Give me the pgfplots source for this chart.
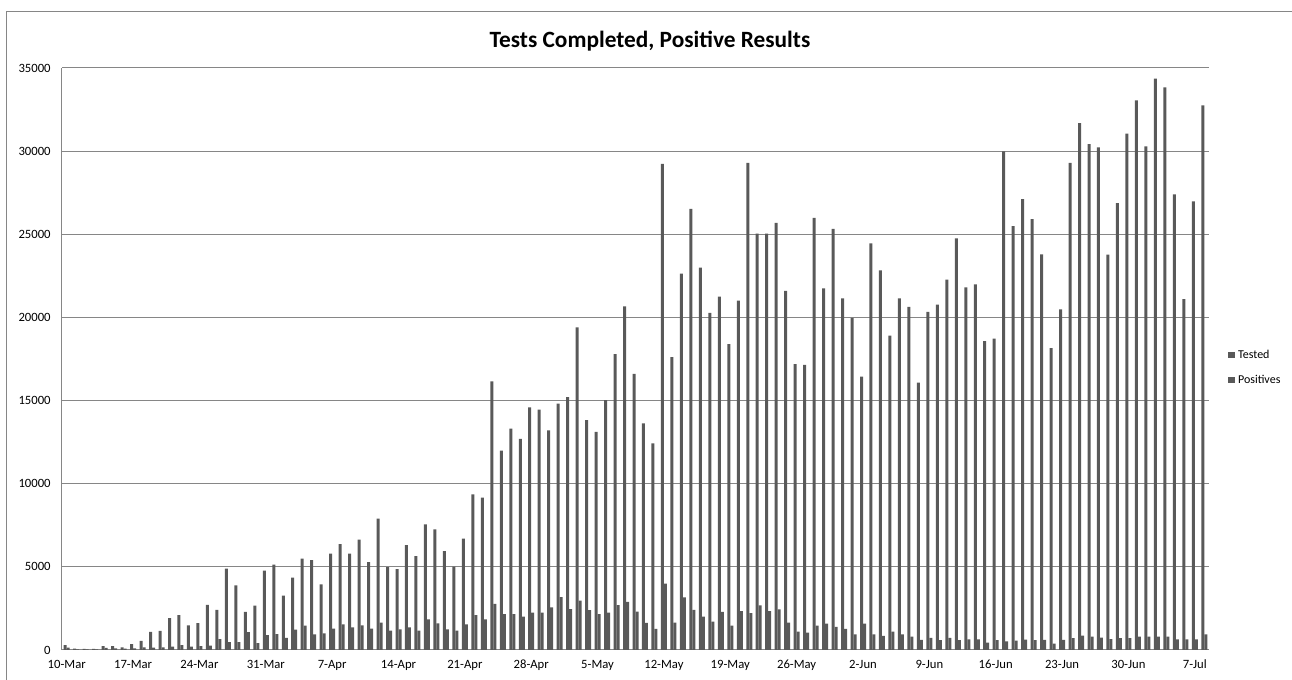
\documentclass[border=0pt]{standalone}
\usepackage{pgfplots}
\usepackage{pgfplotstable}
\pgfplotsset{compat=1.18}
\usepackage{fontspec}
\setmainfont{Carlito}
\definecolor{bargray}{HTML}{595959}
\definecolor{gridgray}{HTML}{868686}
\pgfplotstableread{
x t p
0 300 140
1 80 30
2 60 30
3 60 30
4 240 120
5 240 100
6 160 80
7 360 100
8 550 160
9 1090 140
10 1150 160
11 1920 200
12 2100 300
13 1480 200
14 1620 240
15 2720 260
16 2420 650
17 4900 480
18 3890 480
19 2290 1080
20 2670 420
21 4780 900
22 5140 960
23 3270 730
24 4350 1220
25 5500 1460
26 5400 940
27 3940 1000
28 5800 1280
29 6360 1540
30 5800 1360
31 6640 1480
32 5280 1280
33 7900 1640
34 4980 1160
35 4860 1240
36 6300 1360
37 5640 1160
38 7560 1840
39 7260 1600
40 5940 1240
41 5020 1170
42 6700 1540
43 9360 2090
44 9160 1840
45 16150 2770
46 11990 2150
47 13320 2150
48 12700 2010
49 14590 2250
50 14450 2250
51 13200 2560
52 14810 3180
53 15200 2460
54 19400 2970
55 13830 2400
56 13110 2150
57 15020 2250
58 17790 2700
59 20660 2900
60 16610 2300
61 13630 1630
62 12430 1270
63 29240 3990
64 17610 1650
65 22640 3160
66 26530 2410
67 22990 2000
68 20280 1700
69 21250 2290
70 18390 1460
71 21010 2330
72 29290 2220
73 25040 2690
74 25040 2330
75 25680 2450
76 21600 1650
77 17190 1110
78 17140 1040
79 25990 1460
80 21740 1580
81 25330 1390
82 21150 1270
83 19970 940
84 16440 1580
85 24450 940
86 22830 850
87 18910 1110
88 21150 940
89 20630 800
90 16080 610
91 20330 730
92 20770 590
93 22280 730
94 24760 590
95 21810 640
96 21980 640
97 18580 450
98 18720 590
99 29990 520
100 25490 560
101 27120 620
102 25910 600
103 23790 610
104 18160 380
105 20490 610
106 29290 710
107 31690 870
108 30420 800
109 30230 750
110 23770 660
111 26880 710
112 31050 710
113 33060 800
114 30280 800
115 34360 800
116 33840 800
117 27400 640
118 21100 640
119 26980 640
120 32750 940
}\datatable
\begin{document}
\begin{tikzpicture}
\path[use as bounding box] (-46.5pt,-22.5pt) rectangle (922.5pt,487.5pt);
\draw[gridgray,line width=0.75pt] (-41.25pt,-22.5pt) -- (-41.25pt,478.5pt) -- (922.5pt,478.5pt);
\node[font=\fontsize{17.5}{20}\selectfont\bfseries] at (441pt,457pt) {Tests Completed, Positive Results};
\begin{axis}[
  at={(0pt,0pt)}, anchor=south west,
  scale only axis,
  width=860.25pt, height=436.5pt,
  xmin=-0.5, xmax=120.5, ymin=0, ymax=35000,
  ybar=0pt, bar width=2.25pt,
  axis lines*=left,
  axis line style={gridgray,line width=0.75pt,-},
  ymajorgrids,
  grid style={gridgray,line width=0.75pt},
  major tick length=0pt,
  scaled y ticks=false,
  ytick={0,5000,...,35000},
  xtick={0,7,...,119},
  xticklabels={10-Mar,17-Mar,24-Mar,31-Mar,7-Apr,14-Apr,21-Apr,28-Apr,5-May,12-May,19-May,26-May,2-Jun,9-Jun,16-Jun,23-Jun,30-Jun,7-Jul},
  tick label style={font=\fontsize{9.5}{11}\selectfont},
  yticklabel style={xshift=-5pt},
  xticklabel style={yshift=-4pt},
  /pgf/number format/.cd, 1000 sep={}, assume math mode=true, /pgfplots/.cd,
  legend style={draw=none, fill=none, at={(1.0166,0.4854)}, anchor=west, inner sep=0pt,
    font=\fontsize{9}{11}\selectfont, row sep=7pt, legend cell align=left,
    /tikz/every even column/.append style={column sep=2pt}},
  legend image code/.code={\fill[#1] (0pt,-2.6pt) rectangle (5.3pt,2.6pt);},
]
\addplot[fill=bargray, draw=none] table[x=x,y=t] {\datatable};
\addplot[fill=bargray, draw=none] table[x=x,y=p] {\datatable};
\legend{Tested,Positives}
\end{axis}
\end{tikzpicture}
\end{document}
